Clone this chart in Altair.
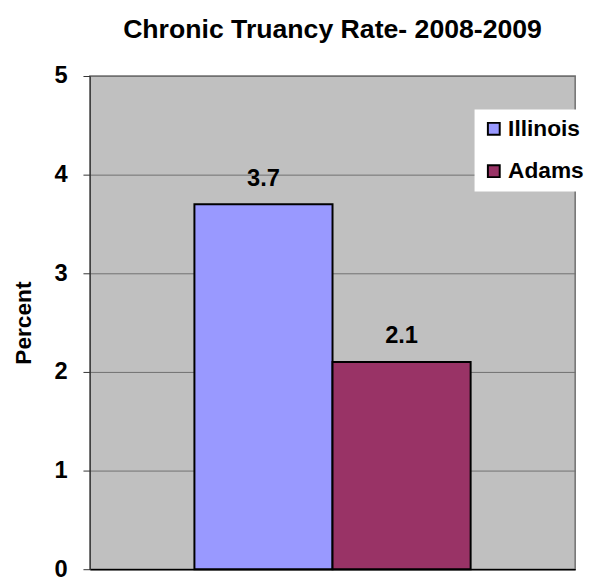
import altair as alt
import pandas as pd

series = ["Illinois", "Adams"]
values = [3.7, 2.1]
colors = ["#9999FF", "#993366"]
y_ticks = [0, 1, 2, 3, 4, 5]

df = pd.DataFrame({"series": series, "value": values})
FONT = "Liberation Sans"

x = alt.X("series:N", sort=series,
          scale=alt.Scale(domain=series, paddingInner=0, paddingOuter=0.757),
          axis=alt.Axis(labels=False, ticks=False, title=None, domainColor="#000000", domainWidth=1.5))
y = alt.Y("value:Q", scale=alt.Scale(domain=[0, 5]),
          axis=alt.Axis(values=y_ticks, format="d", title="Percent", grid=True, gridColor="#707070", gridWidth=1,
                        domainColor="#333333", tickColor="#333333", tickSize=7,
                        labelFont=FONT, labelFontSize=24, labelFontWeight="bold", labelColor="#000000",
                        labelPadding=16,
                        titleFont=FONT, titleFontSize=23, titleFontWeight="bold", titleColor="#000000",
                        titleAngle=270, titleX=-67, titleY=250, titleAlign="center", titleBaseline="middle"))

bars = alt.Chart(df).mark_bar(stroke="#000000", strokeWidth=2).encode(
    x=x, y=y,
    color=alt.Color("series:N", sort=series,
                    scale=alt.Scale(domain=series, range=colors),
                    legend=alt.Legend(title=None, orient="none", legendX=390, legendY=34,
                                      fillColor="#FFFFFF", padding=8, symbolType="square",
                                      symbolSize=144, symbolStrokeColor="#000000", symbolStrokeWidth=2,
                                      symbolOpacity=1,
                                      labelFont=FONT, labelFontSize=23, labelFontWeight="bold",
                                      labelColor="#000000", rowPadding=19, labelOffset=3)),
)

labels = alt.Chart(df).mark_text(font=FONT, fontSize=24, fontWeight="bold", dy=-26, color="#000000").encode(
    x=alt.X("series:N", sort=series), y="value:Q", text=alt.Text("value:Q", format=".1f")
)

chart = alt.layer(bars, labels).properties(
    width=492, height=500,
    autosize=alt.AutoSizeParams(type="none"),
    padding={"left": 83, "top": 65, "right": 13, "bottom": 9},
    title=alt.TitleParams("Chronic Truancy Rate- 2008-2009", font=FONT, fontSize=27, fontWeight="bold",
                          color="#000000", anchor="middle", offset=21),
).configure_view(fill="#C0C0C0", stroke="#707070", strokeWidth=1.5)

chart.save("out.html", embed_options={"renderer": "svg", "actions": False})
